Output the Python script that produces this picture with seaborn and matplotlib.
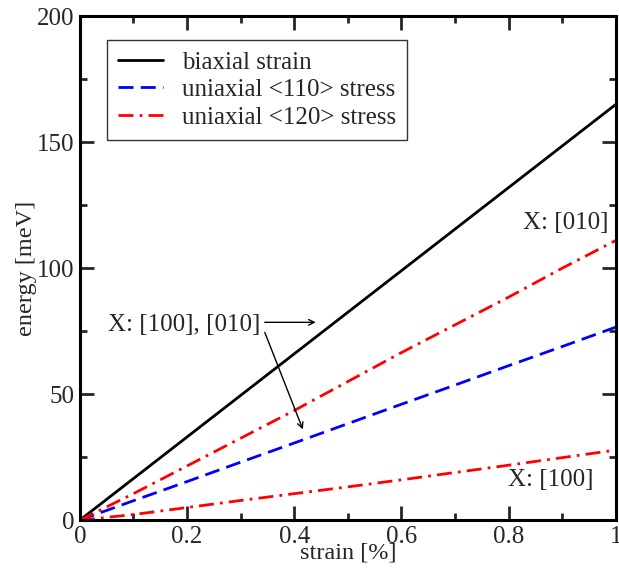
import matplotlib
matplotlib.use("Agg")
import matplotlib.pyplot as plt
import seaborn as sns
import pandas as pd
from matplotlib.ticker import MultipleLocator

# strain [%] and energies [meV]
strain = [0.0, 0.1, 0.2, 0.3, 0.4, 0.5, 0.6, 0.7, 0.8, 0.9, 1.0]
biaxial = [0.0, 16.5, 33.0, 49.5, 66.0, 82.5, 99.0, 115.5, 132.0, 148.5, 165.0]
uni110 = [0.0, 7.7, 15.3, 23.0, 30.6, 38.3, 46.0, 53.6, 61.3, 68.9, 76.6]
uni120_010 = [0.0, 10.5, 21.5, 32.5, 43.5, 55.0, 66.5, 77.5, 88.5, 100.0, 111.0]
uni120_100 = [0.0, 2.2, 5.0, 7.8, 10.5, 13.2, 16.0, 18.9, 21.8, 24.8, 27.8]

sns.set_style("ticks")
plt.rcParams["font.family"] = ["Liberation Serif", "DejaVu Serif"]

fig = plt.figure(figsize=(6.19, 5.76), dpi=100)
ax = fig.add_axes([0.129, 0.097, 0.866, 0.875])

df = pd.DataFrame({
    "strain": strain,
    "biaxial": biaxial,
    "u110": uni110,
    "u120a": uni120_010,
    "u120b": uni120_100,
})

lw = 2.0
dashdot = (0, (5.4, 2.2, 1.0, 2.2))
sns.lineplot(data=df, x="strain", y="biaxial", ax=ax, color="black", lw=lw,
             label="biaxial strain")
sns.lineplot(data=df, x="strain", y="u110", ax=ax, color="#0000ff", lw=lw,
             linestyle=(0, (5.4, 2.6)), label="uniaxial <110> stress")
sns.lineplot(data=df, x="strain", y="u120a", ax=ax, color="#ff0000", lw=lw,
             linestyle=dashdot, label="uniaxial <120> stress")
sns.lineplot(data=df, x="strain", y="u120b", ax=ax, color="#ff0000", lw=lw,
             linestyle=dashdot, label="_nolegend_")

ax.set_xlim(0, 1)
ax.set_ylim(0, 200)
ax.xaxis.set_major_locator(MultipleLocator(0.2))
ax.xaxis.set_minor_locator(MultipleLocator(0.1))
ax.yaxis.set_major_locator(MultipleLocator(50))
ax.yaxis.set_minor_locator(MultipleLocator(25))
ax.set_xticks([0, 0.2, 0.4, 0.6, 0.8, 1.0])
ax.set_xticklabels(["0", "0.2", "0.4", "0.6", "0.8", "1"])
ax.tick_params(which="both", direction="in", top=True, right=True,
               width=2, labelsize=18, pad=4)
ax.tick_params(which="major", length=10)
ax.tick_params(which="minor", length=5)
for s in ax.spines.values():
    s.set_linewidth(2.2)
    s.set_color("black")

ax.set_xlabel("strain [%]", fontsize=17.5, labelpad=-4)
ax.set_ylabel("energy [meV]", fontsize=17.5, labelpad=0)

leg = ax.legend(loc="upper left", bbox_to_anchor=(0.05, 0.953), borderaxespad=0,
                fontsize=18, frameon=True, fancybox=False, handlelength=1.8,
                borderpad=0.45, labelspacing=0.2, handletextpad=0.75)
leg.get_frame().set_edgecolor("black")
leg.get_frame().set_linewidth(1.0)

ax.text(0.986, 118, "X: [010]", ha="right", va="center", fontsize=18)
ax.text(0.959, 16, "X: [100]", ha="right", va="center", fontsize=18)
ax.text(0.052, 77.5, "X: [100], [010]", ha="left", va="center", fontsize=18)
arrow = dict(arrowstyle="->", color="black", lw=1.0, shrinkA=0, shrinkB=0)
ax.annotate("", xy=(0.44, 78.5), xytext=(0.345, 78.5), arrowprops=arrow)
ax.annotate("", xy=(0.416, 36.0), xytext=(0.345, 74.5), arrowprops=arrow)

fig.savefig("out.png", dpi=100)
